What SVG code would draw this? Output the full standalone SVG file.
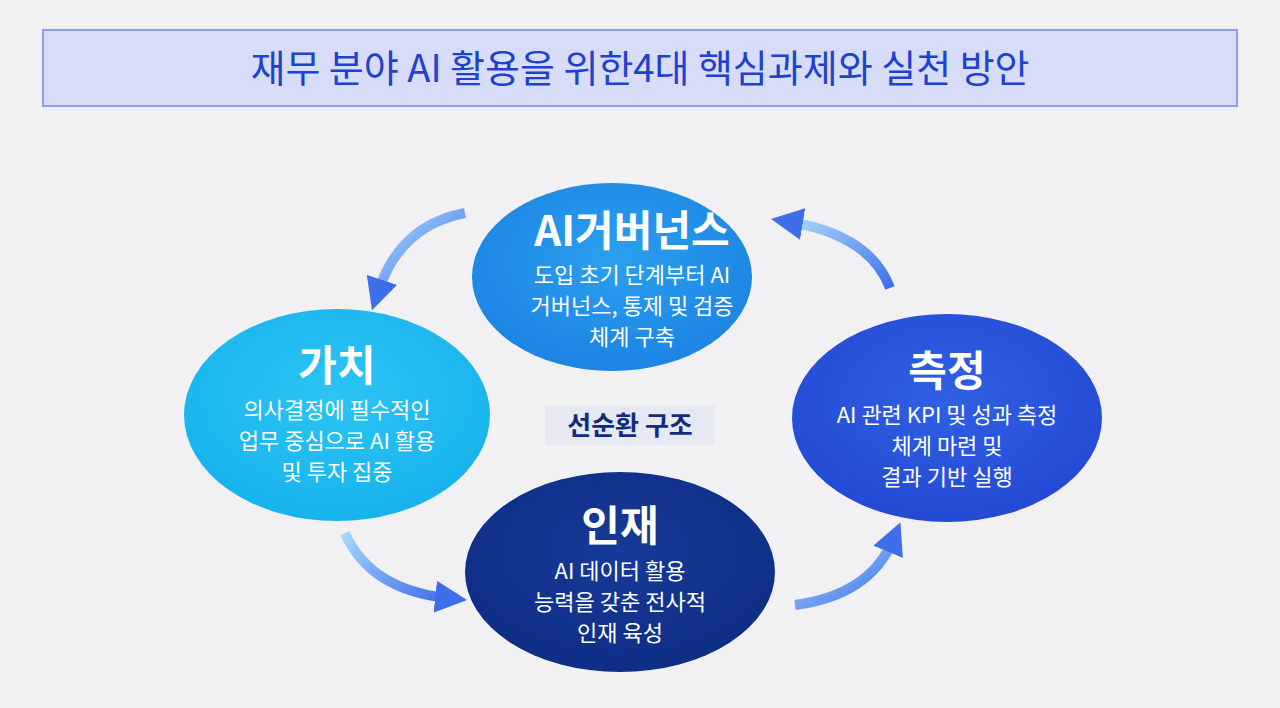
<svg xmlns="http://www.w3.org/2000/svg" width="1280" height="708" viewBox="0 0 1280 708">
<defs>
<style>
text{font-family:"Noto Sans CJK KR","Noto Sans",sans-serif;fill:#fff;text-anchor:middle}
.h{font-size:42px;font-weight:700}
.b{font-size:22px}
.arr{fill:none;stroke-width:10;stroke-linecap:butt}
</style>
<linearGradient id="g1" x1="0" y1="0" x2="1" y2="1"><stop offset="0" stop-color="#a8d8fb"/><stop offset="1" stop-color="#3f6fe8"/></linearGradient>
<marker id="ah" viewBox="0 0 10 10" refX="4" refY="5" markerWidth="3.2" markerHeight="3.2" orient="auto" markerUnits="strokeWidth"><path d="M0,0L10,5L0,10z" fill="#3f6fe8"/></marker>
<radialGradient id="e1" cx="0.5" cy="0.4" r="0.7"><stop offset="0" stop-color="#2aa0f0"/><stop offset="1" stop-color="#1a7fe0"/></radialGradient>
<radialGradient id="e2" cx="0.5" cy="0.4" r="0.7"><stop offset="0" stop-color="#2cc4f4"/><stop offset="1" stop-color="#14b0ec"/></radialGradient>
<radialGradient id="e3" cx="0.5" cy="0.4" r="0.7"><stop offset="0" stop-color="#3060e4"/><stop offset="1" stop-color="#2246d2"/></radialGradient>
<radialGradient id="e4" cx="0.5" cy="0.4" r="0.7"><stop offset="0" stop-color="#163a98"/><stop offset="1" stop-color="#0d2c82"/></radialGradient>
</defs>
<rect width="1280" height="708" fill="#f1f1f3"/>
<g id="title">
<rect x="43" y="30" width="1194" height="76" fill="#d7dcf8" stroke="#8e9fe9" stroke-width="2"/>
<text x="640" y="82" style="fill:#1d42cf;font-size:38px;font-weight:400">재무 분야 AI 활용을 위한4대 핵심과제와 실천 방안</text>
</g>
<g id="connectors">
<path class="arr" d="M465,213 Q400,225 378,292" stroke="url(#g1)" marker-end="url(#ah)"/>
<path class="arr" d="M345,533 Q370,590 448,598" stroke="url(#g1)" marker-end="url(#ah)"/>
<path class="arr" d="M795,605 Q870,595 893,540" stroke="url(#g1)" marker-end="url(#ah)"/>
<path class="arr" d="M890,288 Q870,235 790,222" stroke="url(#g1)" marker-end="url(#ah)"/>
</g>
<g id="center">
<rect x="545" y="405" width="170" height="40" fill="#e6e8f2"/>
<text x="630" y="435" style="fill:#0f2d80;font-size:26px;font-weight:700">선순환 구조</text>
</g>
<g id="governance">
<ellipse cx="612" cy="277" rx="140" ry="94" fill="url(#e1)"/>
<text class="h" x="632" y="246">AI거버넌스</text>
<text class="b" x="632" y="283">도입 초기 단계부터 AI</text>
<text class="b" x="632" y="314">거버넌스, 통제 및 검증</text>
<text class="b" x="632" y="345">체계 구축</text>
</g>
<g id="value">
<ellipse cx="337" cy="415" rx="153" ry="106" fill="url(#e2)"/>
<text class="h" x="337" y="381">가치</text>
<text class="b" x="337" y="418">의사결정에 필수적인</text>
<text class="b" x="337" y="449">업무 중심으로 AI 활용</text>
<text class="b" x="337" y="480">및 투자 집중</text>
</g>
<g id="measure">
<ellipse cx="947" cy="418" rx="155" ry="104" fill="url(#e3)"/>
<text class="h" x="947" y="386">측정</text>
<text class="b" x="947" y="423">AI 관련 KPI 및 성과 측정</text>
<text class="b" x="947" y="454">체계 마련 및</text>
<text class="b" x="947" y="485">결과 기반 실행</text>
</g>
<g id="talent">
<ellipse cx="620" cy="572" rx="155" ry="100" fill="url(#e4)"/>
<text class="h" x="620" y="541">인재</text>
<text class="b" x="620" y="579">AI 데이터 활용</text>
<text class="b" x="620" y="610">능력을 갖춘 전사적</text>
<text class="b" x="620" y="641">인재 육성</text>
</g>
</svg>
